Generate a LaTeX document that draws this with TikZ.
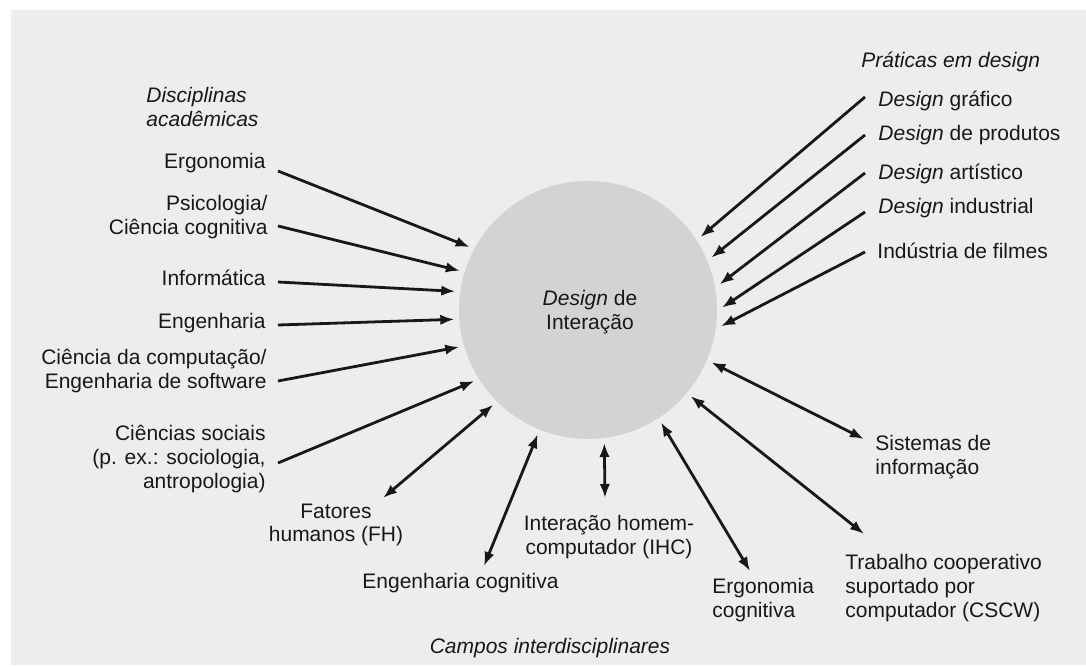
\documentclass[tikz,border=0pt]{standalone}
\usepackage{fontspec}
\setmainfont{Liberation Sans}
\usetikzlibrary{arrows.meta}
\definecolor{paper}{RGB}{237,237,237}
\definecolor{disc}{RGB}{211,211,211}
\definecolor{ink}{RGB}{24,24,24}
\begin{document}
\begin{tikzpicture}[x=0.5pt,y=-0.5pt,
  lbl/.style={inner sep=0pt, text=ink, font=\fontsize{10.5}{11.8}\selectfont},
  head/.style={lbl, font=\fontsize{10.5}{11.8}\selectfont\itshape},
  tip/.tip={Latex[length=7pt,width=5.2pt]},
  feed/.style={draw=ink, line width=1.4pt, -tip},
  link/.style={draw=ink, line width=1.4pt, tip-tip},
]
\useasboundingbox (0,0) rectangle (1086,667);
\fill[white] (0,0) rectangle (1086,667);
\fill[paper] (11,10) rectangle (1086,665);

% central field
\node[circle, fill=disc, minimum size=129pt, inner sep=0pt, outer sep=2.5pt] (core) at (588,310) {};
\node[lbl, align=center] (coretxt) at (590,312) {\textit{Design} de\\Interação};

% academic disciplines
\node[head, anchor=west, align=left] (acad) at (146,107) {Disciplinas\\acadêmicas};
\node[lbl, anchor=east] (ergo) at (266,163) {Ergonomia};
\node[lbl, anchor=east, align=right] (psico) at (268,217) {Psicologia/\\Ciência cognitiva};
\node[lbl, anchor=east] (info) at (266,278) {Informática};
\node[lbl, anchor=east] (eng) at (266,323) {Engenharia};
\node[lbl, anchor=east, align=right] (comp) at (267,371) {Ciência da computação/\\Engenharia de software};
\node[lbl, anchor=east, align=right] (soc) at (266,459) {Ciências sociais\\(p. ex.: sociologia,\\antropologia)};

% design practices
\node[head, anchor=west] (prat) at (861,62) {Práticas em design};
\node[lbl, anchor=west] (graf) at (878,101) {\textit{Design} gráfico};
\node[lbl, anchor=west] (prod) at (878,135) {\textit{Design} de produtos};
\node[lbl, anchor=west] (arte) at (878,174) {\textit{Design} artístico};
\node[lbl, anchor=west] (indu) at (878,208) {\textit{Design} industrial};
\node[lbl, anchor=west] (film) at (877,251) {Indústria de filmes};

% interdisciplinary fields
\node[lbl, align=center] (fh) at (336,525) {Fatores\\humanos (FH)};
\node[lbl, anchor=west] (engcog) at (362,583) {Engenharia cognitiva};
\node[lbl, align=center] (ihc) at (609,537) {Interação homem-\\computador (IHC)};
\node[lbl, anchor=west, align=left] (ergcog) at (712,600) {Ergonomia\\cognitiva};
\node[lbl, anchor=west, align=left] (cscw) at (845,588) {Trabalho cooperativo\\suportado por\\computador (CSCW)};
\node[lbl, anchor=west, align=left] (sist) at (875,457) {Sistemas de\\informação};
\node[head] (campos) at (550,648) {Campos interdisciplinares};

% connector tails
\coordinate (tErgo) at (278,171);
\coordinate (tPsico) at (278,226);
\coordinate (tInfo) at (278,282);
\coordinate (tEng) at (278,325);
\coordinate (tComp) at (278,381);
\coordinate (tSoc) at (278,463);
\coordinate (tFh) at (383,498);
\coordinate (tEngcog) at (484,566);
\coordinate (tIhc) at (605,498);
\coordinate (tErgcog) at (750,571);
\coordinate (tCscw) at (864,534);
\coordinate (tSist) at (864,439);
\coordinate (tGraf) at (865,97);
\coordinate (tProd) at (865,135);
\coordinate (tArte) at (865,173);
\coordinate (tIndu) at (865,212);
\coordinate (tFilm) at (865,252);

% one-way contributions
\draw[feed] (tErgo) -- (core.152.5);
\draw[feed] (tPsico) -- (core.163.3);
\draw[feed] (tInfo) -- (core.172.4);
\draw[feed] (tEng) -- (core.184.7);
\draw[feed] (tComp) -- (core.196.5);
\draw[feed] (tSoc) -- (core.212.1);
\draw[feed] (tGraf) -- (core.33.6);
\draw[feed] (tProd) -- (core.23);
\draw[feed] (tArte) -- (core.11.4);
\draw[feed] (tIndu) -- (core.1.7);
\draw[feed] (tFilm) -- (core.353.1);

% two-way exchanges
\draw[link] (tFh) -- (core.225);
\draw[link] (tEngcog) -- (core.248);
\draw[link] (tIhc) -- (core.277.5);
\draw[link] (tErgcog) -- (core.303.5);
\draw[link] (tCscw) -- (core.320.5);
\draw[link] (tSist) -- (core.337.6);
\end{tikzpicture}
\end{document}
